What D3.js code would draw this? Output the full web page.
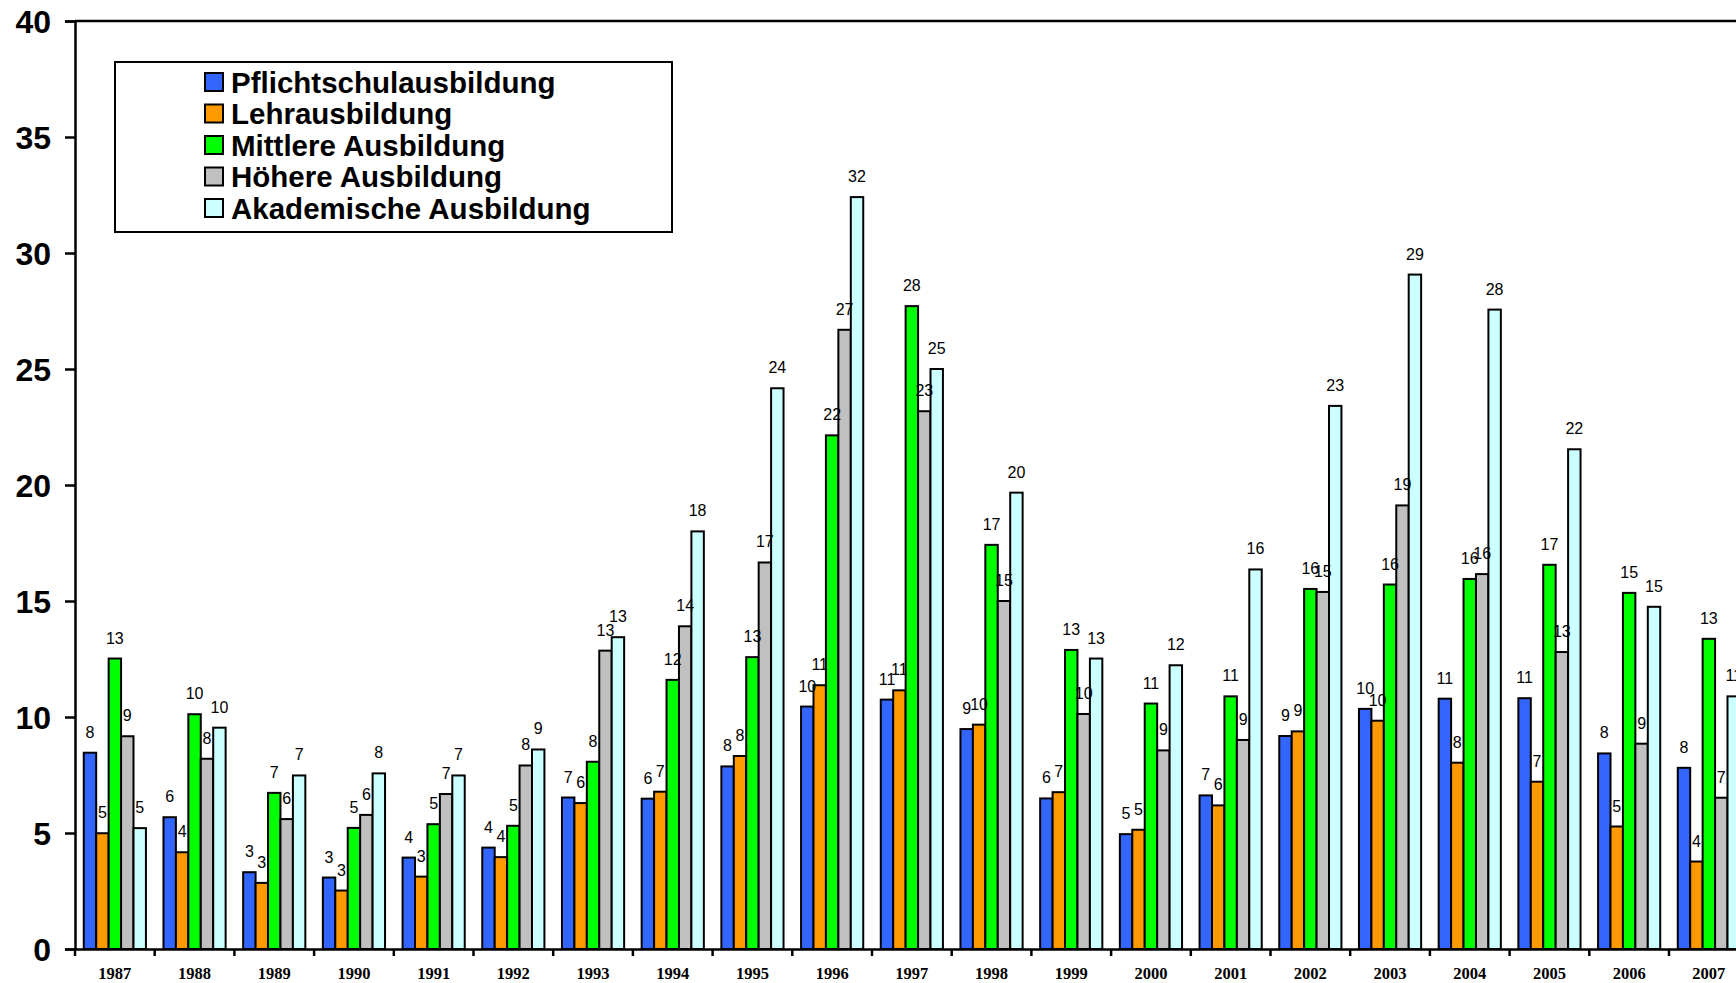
<!DOCTYPE html>
<html>
<head>
<meta charset="utf-8">
<script src="https://d3js.org/d3.v7.min.js"></script>
<style>
  html, body { margin: 0; padding: 0; background: #fff; overflow: hidden; }
  svg { display: block; }
</style>
</head>
<body>
<svg id="chart" width="1736" height="983"></svg>
<script>
// Jahre (Kategorien)
const years = ["1987","1988","1989","1990","1991","1992","1993","1994","1995","1996",
               "1997","1998","1999","2000","2001","2002","2003","2004","2005","2006","2007"];

// Serien nach Ausbildungsniveau
const seriesNames = ["Pflichtschulausbildung","Lehrausbildung","Mittlere Ausbildung",
                     "Höhere Ausbildung","Akademische Ausbildung"];
const seriesColors = ["#3366FF","#FF9900","#00FF00","#C0C0C0","#CCFFFF"];

const pflichtschule = [8.46,5.68,3.31,3.08,3.94,4.37,6.53,6.48,7.87,10.45,10.75,9.48,6.49,4.95,6.62,9.18,10.35,10.79,10.81,8.43,7.81];
const lehre         = [4.99,4.17,2.85,2.52,3.12,3.96,6.29,6.78,8.32,11.37,11.15,9.67,6.76,5.14,6.19,9.38,9.84,8.03,7.21,5.28,3.77];
const mittlere      = [12.52,10.12,6.73,5.22,5.38,5.31,8.07,11.6,12.58,22.14,27.71,17.42,12.89,10.58,10.89,15.52,15.71,15.95,16.56,15.35,13.37];
const hoehere       = [9.17,8.2,5.6,5.78,6.68,7.91,12.86,13.91,16.66,26.69,23.18,15.0,10.13,8.56,9.01,15.39,19.12,16.16,12.8,8.85,6.52];
const akademische   = [5.21,9.54,7.48,7.57,7.48,8.6,13.44,18.0,24.17,32.41,25.0,19.67,12.52,12.23,16.36,23.41,29.07,27.56,21.54,14.75,10.89];

const yTicks = [0,5,10,15,20,25,30,35,40];

const seriesValues = [pflichtschule, lehre, mittlere, hoehere, akademische];

const svg = d3.select("#chart");

// Plotbereich
const plotLeft = 75, plotTop = 21, plotBottom = 949;
const groupW = 79.7;
const plotRight = plotLeft + years.length * groupW;

const x0 = d3.scaleBand().domain(years).range([plotLeft, plotRight]).paddingInner(0).paddingOuter(0);
const pad = x0.bandwidth() * 0.11;
const x1 = d3.scaleBand().domain(d3.range(seriesNames.length)).range([pad, x0.bandwidth() - pad]);
const y = d3.scaleLinear().domain([0, 40]).range([plotBottom, plotTop]);

// Rahmenlinie oben
svg.append("line")
  .attr("x1", plotLeft).attr("x2", plotRight)
  .attr("y1", y(40)).attr("y2", y(40))
  .attr("stroke", "#000").attr("stroke-width", 2.5);

// Balken
const groups = svg.append("g").selectAll("g")
  .data(years)
  .join("g")
  .attr("transform", d => `translate(${x0(d)},0)`);

groups.selectAll("rect")
  .data((yr, i) => seriesValues.map((vals, s) => ({ s, v: vals[i] })))
  .join("rect")
  .attr("x", d => x1(d.s))
  .attr("width", x1.bandwidth())
  .attr("y", d => y(d.v))
  .attr("height", d => y(0) - y(d.v))
  .attr("fill", d => seriesColors[d.s])
  .attr("stroke", "#000")
  .attr("stroke-width", 2);

// Datenbeschriftungen
const fmt = d3.format(".0f");
groups.selectAll("text.val")
  .data((yr, i) => seriesValues.map((vals, s) => ({ s, v: vals[i] })))
  .join("text")
  .attr("class", "val")
  .attr("x", d => x1(d.s) + x1.bandwidth() / 2)
  .attr("y", d => y(d.v) - 15)
  .attr("text-anchor", "middle")
  .attr("font-family", "Arial, 'Liberation Sans', sans-serif")
  .attr("font-size", 16)
  .attr("fill", "#000")
  .text(d => fmt(d.v));

// Y-Achse
const yAxis = svg.append("g")
  .attr("transform", `translate(${plotLeft},0)`)
  .call(d3.axisLeft(y).tickValues(yTicks).tickSize(10).tickPadding(14).tickFormat(d3.format("d")));
yAxis.select(".domain").attr("stroke", "#000").attr("stroke-width", 2.5);
yAxis.selectAll(".tick line").attr("stroke", "#000").attr("stroke-width", 2.5);
yAxis.selectAll(".tick text")
  .attr("font-family", "Arial, 'Liberation Sans', sans-serif")
  .attr("font-weight", "bold")
  .attr("font-size", 32)
  .attr("fill", "#000")
  .attr("dy", "0.36em");

// X-Achse
const xAxis = svg.append("g")
  .attr("transform", `translate(0,${plotBottom})`)
  .call(d3.axisBottom(x0).tickSize(0).tickPadding(18));
xAxis.select(".domain").attr("stroke", "#000").attr("stroke-width", 2.5);
xAxis.selectAll(".tick text")
  .attr("font-family", "'Times New Roman', 'Liberation Serif', serif")
  .attr("font-weight", "bold")
  .attr("font-size", 16.5)
  .attr("fill", "#000");

// Teilstriche an den Gruppengrenzen
svg.append("g").selectAll("line")
  .data(years)
  .join("line")
  .attr("x1", d => x0(d)).attr("x2", d => x0(d))
  .attr("y1", plotBottom).attr("y2", plotBottom + 7)
  .attr("stroke", "#000").attr("stroke-width", 2.5);

// Legende
const legend = svg.append("g");
legend.append("rect")
  .attr("x", 115).attr("y", 62).attr("width", 557).attr("height", 170)
  .attr("fill", "#fff").attr("stroke", "#000").attr("stroke-width", 2);

const rowY = d3.scalePoint().domain(seriesNames).range([82, 208]);
const items = legend.selectAll("g.item")
  .data(seriesNames)
  .join("g")
  .attr("class", "item")
  .attr("transform", d => `translate(205,${rowY(d)})`);
items.append("rect")
  .attr("x", 0).attr("y", -9).attr("width", 18).attr("height", 18)
  .attr("fill", (d, i) => seriesColors[i])
  .attr("stroke", "#000").attr("stroke-width", 2);
items.append("text")
  .attr("x", 26).attr("y", 0).attr("dy", "0.36em")
  .attr("font-family", "Arial, 'Liberation Sans', sans-serif")
  .attr("font-weight", "bold")
  .attr("font-size", 29.5)
  .attr("fill", "#000")
  .text(d => d);
</script>
</body>
</html>
